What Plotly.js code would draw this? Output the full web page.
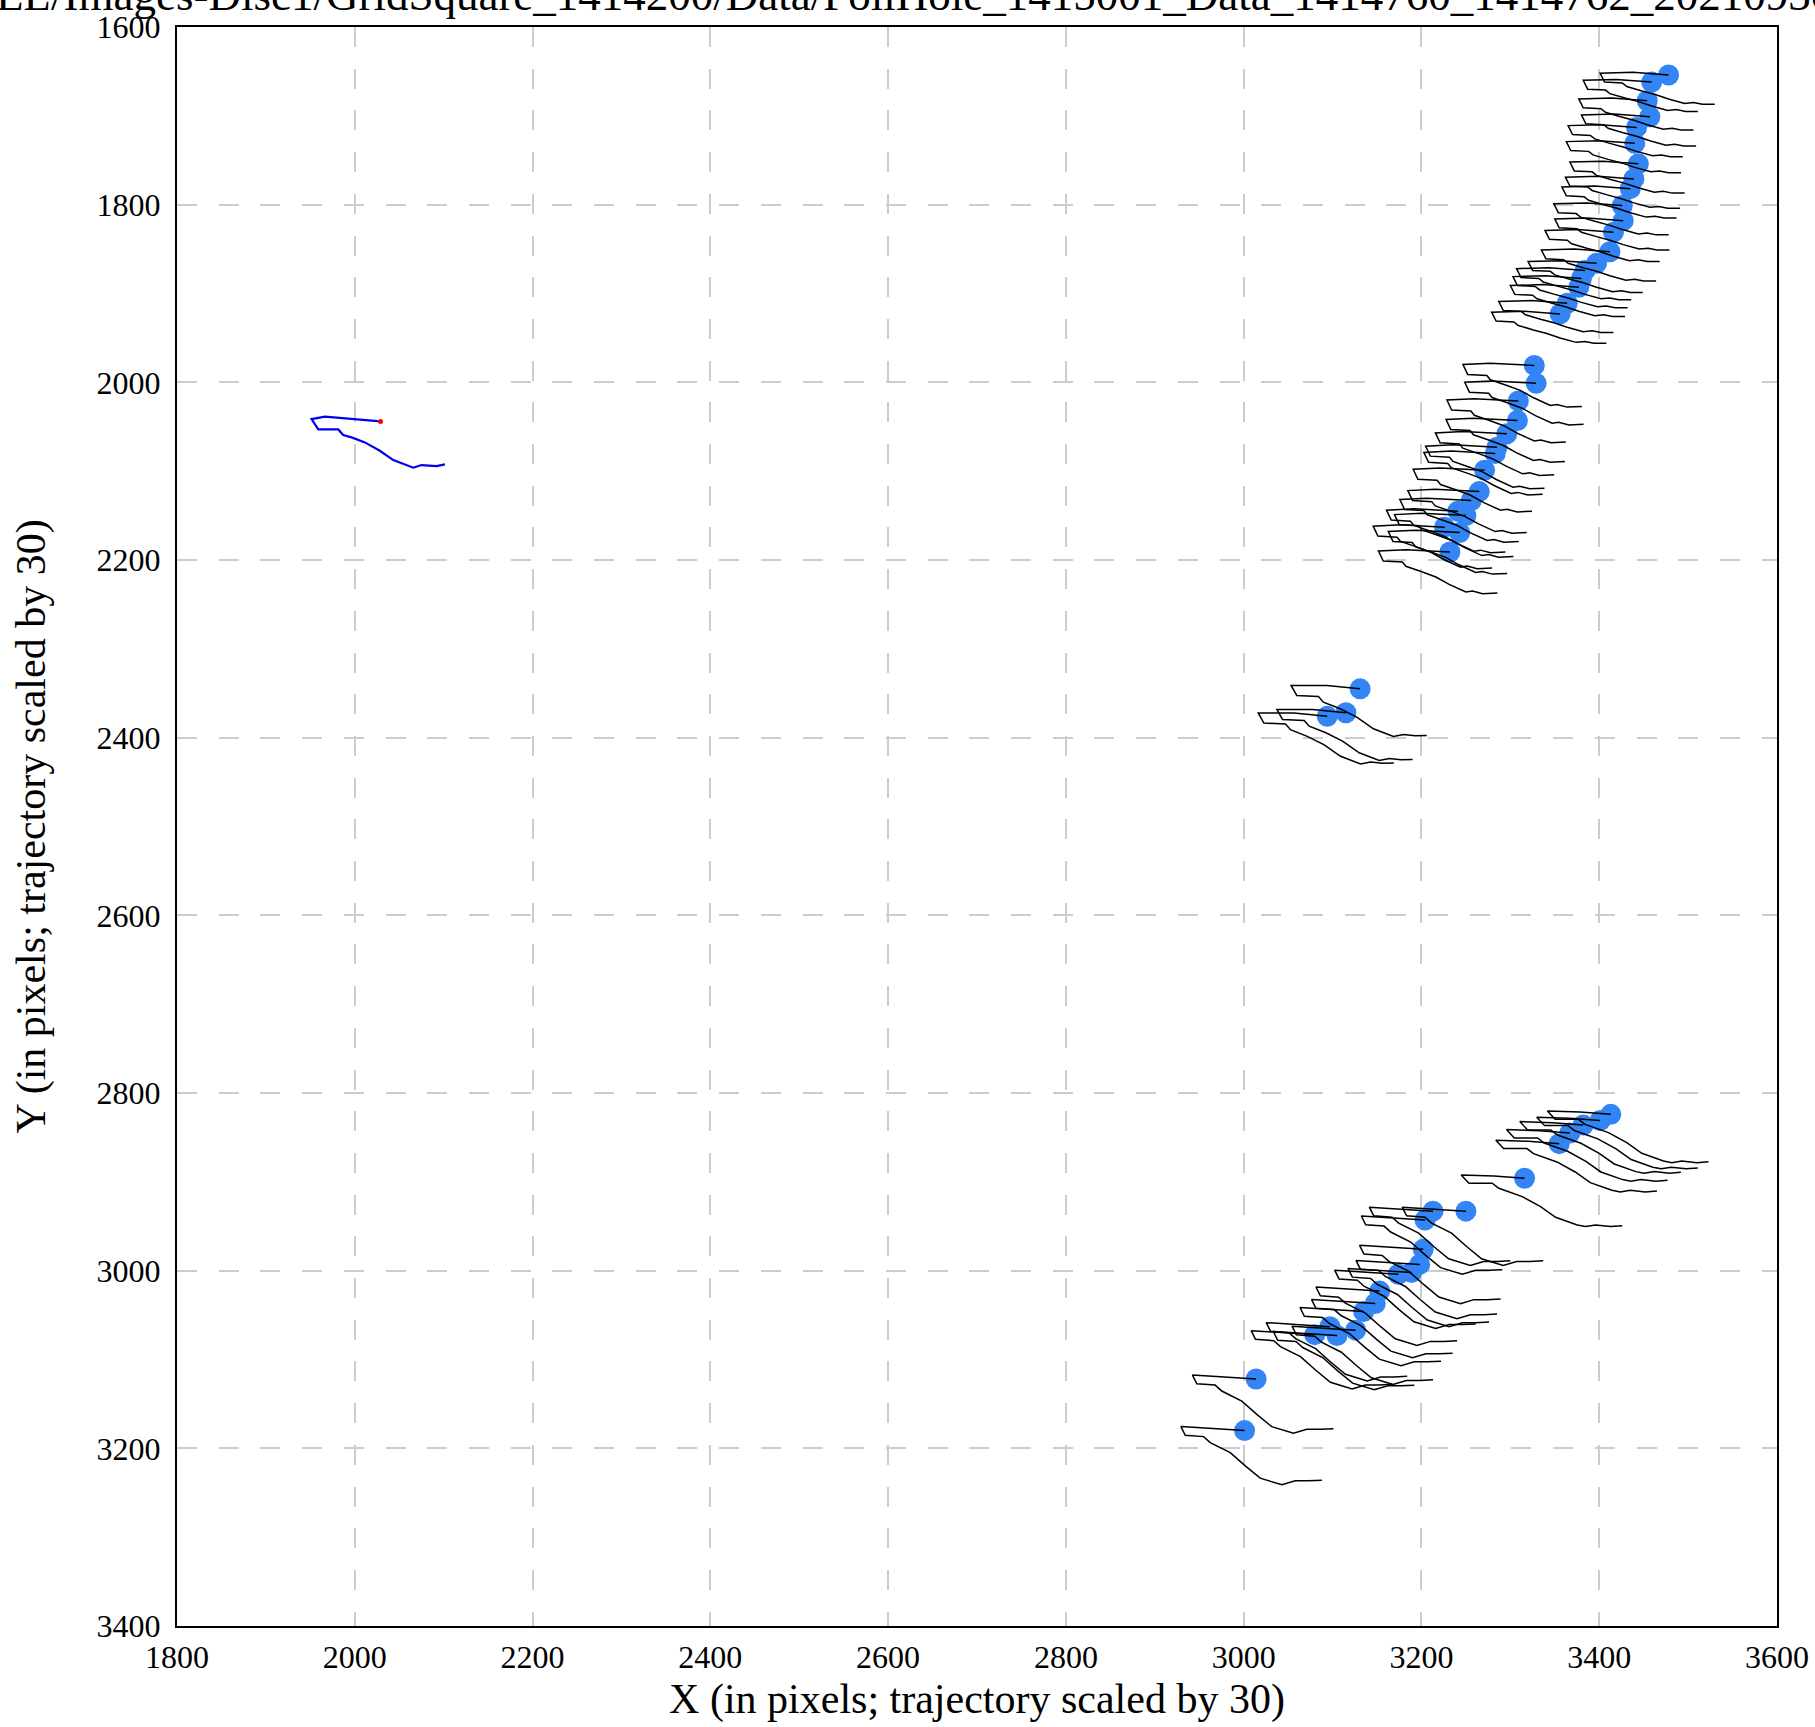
<!DOCTYPE html>
<html>
<head>
<meta charset="utf-8">
<script src="https://cdn.plot.ly/plotly-3.0.1.min.js"></script>
<style>html,body{margin:0;padding:0;background:#fff;}#chart{width:1815px;height:1727px;}</style>
</head>
<body>
<div id="chart"></div>
<script>
// ---- Particle positions (pixels), grouped by region ----
const groupA_x = [3478, 3459, 3454, 3457, 3442, 3440, 3444, 3439, 3435, 3426, 3427, 3416, 3412, 3397, 3384, 3380, 3377, 3364, 3356];
const groupA_y = [1654, 1662, 1683, 1701, 1713, 1731, 1754, 1771, 1782, 1801, 1818, 1831, 1853, 1866, 1874, 1883, 1893, 1911, 1923];

const groupB_x = [3327, 3329, 3309, 3308, 3296, 3285, 3283, 3271, 3265, 3256, 3241, 3250, 3226, 3243, 3232];
const groupB_y = [1981, 2001, 2021, 2043, 2058, 2073, 2080, 2099, 2123, 2133, 2145, 2150, 2163, 2169, 2191];

const groupC_x = [3131, 3115, 3094];
const groupC_y = [2345, 2372, 2376];

const groupD_x = [3413, 3401, 3382, 3367, 3355, 3316];
const groupD_y = [2824, 2831, 2836, 2845, 2857, 2896];

const groupE_x = [3250, 3213, 3204, 3202, 3198, 3189, 3174, 3153, 3148, 3135, 3126, 3105, 3097, 3080, 3014, 3001];
const groupE_y = [2933, 2933, 2943, 2976, 2993, 3002, 3004, 3023, 3037, 3046, 3067, 3073, 3063, 3072, 3122, 3180];

// ---- Trajectory shapes (offsets in pixels, already scaled by 30) ----
const shapeA_dx = [0, -40, -77, -72, -52, -47, -30, -15, 0, 18, 28, 38, 52];
const shapeA_dy = [0, -3, -2, 8, 9, 13, 18, 22, 27, 32, 31, 33, 33];

const shapeB_dx = [0, -49.5, -80.3, -75, -53.4, -49.5, -30.8, -15.8, -0.8, 18, 25.5, 36.8, 53.4];
const shapeB_dy = [0, -2.6, -1.1, 10.1, 11.3, 16.1, 22.5, 28.1, 36.4, 45, 43.9, 46.9, 46.1];

const shapeC_dx = [0, -37.5, -77.6, -71.3, -46.9, -41.3, -22.5, -3.8, 15, 37.5, 48.8, 61.9, 75];
const shapeC_dy = [0, -3.8, -3.8, 7.5, 8.6, 15, 22.5, 31.9, 45, 53.6, 51.4, 52.9, 52.5];

const shapeD_dx = [0, -34.5, -71.3, -62.6, -36.4, -28.9, -2.6, 18, 34.9, 59.3, 68.7, 79.9, 96.8, 109.9];
const shapeD_dy = [0, -2.6, -3.8, 5.6, 5.6, 11.3, 20.6, 31.9, 43.9, 52.5, 54.4, 52.5, 54.4, 53.3];

const shapeE_dx = [0, -36.8, -71.6, -66.7, -46.1, -38.6, -16.1, 0.8, 17.6, 42, 57, 72, 87];
const shapeE_dy = [0, -2.6, -4.5, 5.3, 6.8, 13.5, 24.8, 39.8, 53.6, 61.1, 56.6, 56.6, 55.9];

// ---- Reference (mean) trajectory drawn in blue ----
const refStart_x = [2029];
const refStart_y = [2044];
const refShape_dx = [0, -27, -62.6, -77.6, -70.1, -47.6, -42, -32.6, -17.6, -0.8, 14.3, 36.8, 46.1, 63, 72.4];
const refShape_dy = [0, -2.3, -5.3, -2.6, 9, 9, 15.4, 18, 23.6, 33, 43.5, 52.1, 49.1, 50.3, 48.4];

const titleText = "EL/Images-Disc1/GridSquare_1414200/Data/FoilHole_1415001_Data_1414760_1414762_20210930_094512.jpg";
const xTitle = "X (in pixels; trajectory scaled by 30)";
const yTitle = "Y (in pixels; trajectory scaled by 30)";

function buildTracks(px, py, sdx, sdy) {
  const xs = [], ys = [];
  for (let i = 0; i < px.length; i++) {
    for (let k = 0; k < sdx.length; k++) { xs.push(px[i] + sdx[k]); ys.push(py[i] + sdy[k]); }
    xs.push(null); ys.push(null);
  }
  return {xs, ys};
}

const groups = [
  [groupA_x, groupA_y, shapeA_dx, shapeA_dy],
  [groupB_x, groupB_y, shapeB_dx, shapeB_dy],
  [groupC_x, groupC_y, shapeC_dx, shapeC_dy],
  [groupD_x, groupD_y, shapeD_dx, shapeD_dy],
  [groupE_x, groupE_y, shapeE_dx, shapeE_dy]
];

const traces = [];
let allX = [], allY = [];
groups.forEach(g => { allX = allX.concat(g[0]); allY = allY.concat(g[1]); });
traces.push({
  x: allX, y: allY, type: 'scatter', mode: 'markers',
  marker: {color: '#3384f4', size: 21, line: {width: 0}},
  hoverinfo: 'skip', showlegend: false
});
groups.forEach(g => {
  const t = buildTracks(g[0], g[1], g[2], g[3]);
  traces.push({
    x: t.xs, y: t.ys, type: 'scatter', mode: 'lines',
    line: {color: '#000000', width: 1.5}, connectgaps: false,
    hoverinfo: 'skip', showlegend: false
  });
});
const ref = buildTracks(refStart_x, refStart_y, refShape_dx, refShape_dy);
traces.push({
  x: ref.xs, y: ref.ys, type: 'scatter', mode: 'lines',
  line: {color: '#0000ee', width: 2.2}, hoverinfo: 'skip', showlegend: false
});
traces.push({
  x: refStart_x, y: refStart_y, type: 'scatter', mode: 'markers',
  marker: {color: '#ff0000', size: 5}, hoverinfo: 'skip', showlegend: false
});

const tickVals = [1800, 2000, 2200, 2400, 2600, 2800, 3000, 3200, 3400, 3600];
const yTickVals = [1600, 1800, 2000, 2200, 2400, 2600, 2800, 3000, 3200, 3400];

const axisCommon = {
  showline: true, linecolor: '#000', linewidth: 2, mirror: true,
  showgrid: true, gridcolor: '#cccccc', gridwidth: 2, griddash: '20px,21.7px',
  zeroline: false, ticks: '', tickfont: {family: 'Liberation Serif, serif', size: 32, color: '#000'}
};

const layout = {
  width: 1815, height: 1727,
  margin: {l: 177, r: 38, t: 27, b: 101},
  paper_bgcolor: '#fff', plot_bgcolor: '#fff',
  font: {family: 'Liberation Serif, serif', color: '#000'},
  annotations: [{
    text: titleText, showarrow: false,
    xref: 'paper', x: -183 / 1600, xanchor: 'left',
    yref: 'paper', y: 1, yanchor: 'bottom', yshift: 5,
    font: {family: 'Liberation Serif, serif', size: 45, color: '#000'}
  }],
  xaxis: Object.assign({}, axisCommon, {
    range: [1800, 3600], tickvals: tickVals, ticklabelstandoff: 2,
    title: {text: xTitle, font: {family: 'Liberation Serif, serif', size: 42, color: '#000'}, standoff: 9}
  }),
  yaxis: Object.assign({}, axisCommon, {
    range: [3400, 1600], tickvals: yTickVals, ticklabelstandoff: 8,
    title: {text: yTitle, font: {family: 'Liberation Serif, serif', size: 42, color: '#000'}, standoff: 38}
  }),
  showlegend: false
};

Plotly.newPlot('chart', traces, layout, {displayModeBar: false, staticPlot: true});
</script>
</body>
</html>
